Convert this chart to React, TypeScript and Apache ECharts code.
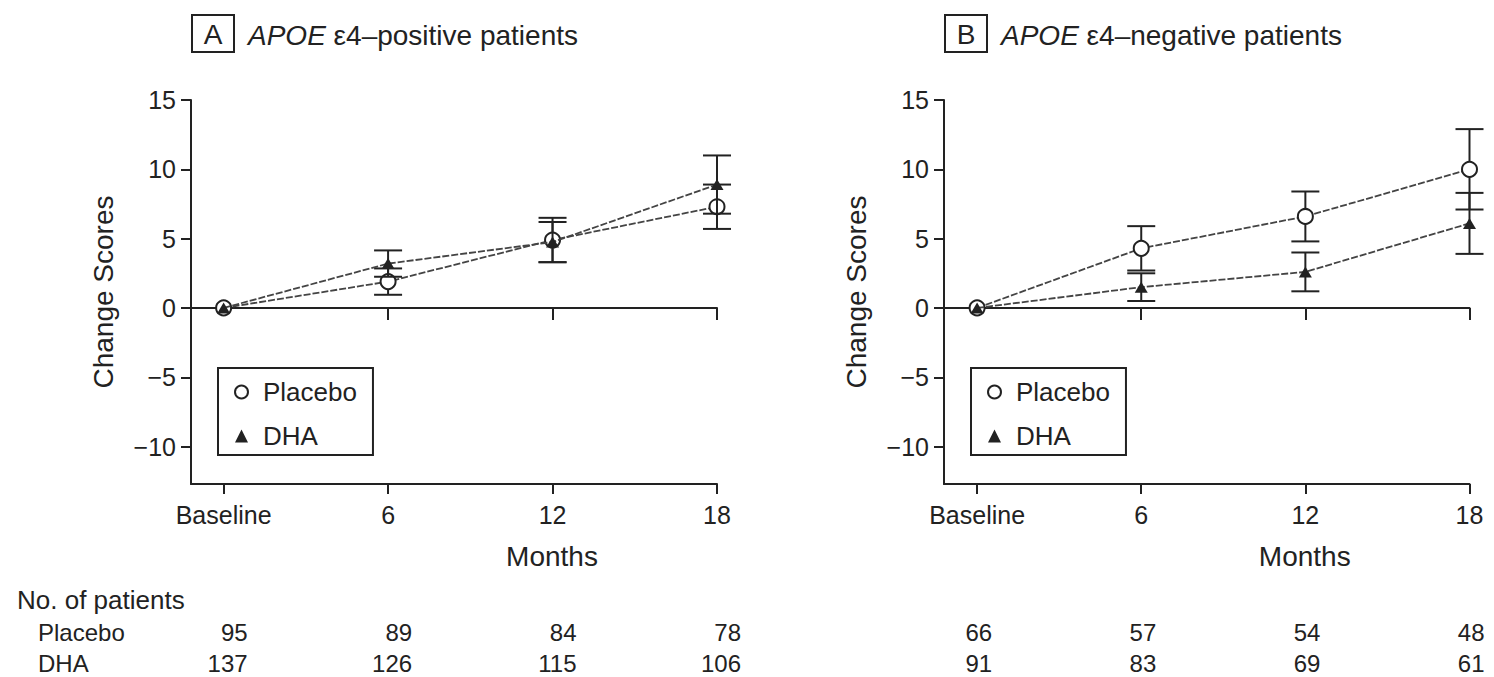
import React, { useEffect, useRef } from 'react';
import * as echarts from 'echarts';

const FONT = '"Liberation Sans", Arial, Helvetica, sans-serif';
const INK = '#222';

// ---- data ----
const months = [0, 6, 12, 18];
const monthLabels = ['Baseline', '6', '12', '18'];
const yTicks = [-10, -5, 0, 5, 10, 15];

// Panel A: APOE e4-positive
const posPlaceboMean = [0, 1.9, 4.9, 7.3];
const posPlaceboSE = [0, 0.95, 1.6, 1.6];
const posDhaMean = [0, 3.2, 4.75, 8.9];
const posDhaSE = [0, 0.95, 1.45, 2.1];
const posPlaceboN = [95, 89, 84, 78];
const posDhaN = [137, 126, 115, 106];

// Panel B: APOE e4-negative
const negPlaceboMean = [0, 4.3, 6.6, 10.0];
const negPlaceboSE = [0, 1.6, 1.8, 2.9];
const negDhaMean = [0, 1.5, 2.6, 6.1];
const negDhaSE = [0, 1.0, 1.4, 2.2];
const negPlaceboN = [66, 57, 54, 48];
const negDhaN = [91, 83, 69, 61];

const panels = [
  {
    letter: 'A', title: ' ε4–positive patients',
    placebo: posPlaceboMean, placeboSE: posPlaceboSE, dha: posDhaMean, dhaSE: posDhaSE,
    nP: posPlaceboN, nD: posDhaN,
    grid: { left: 191, top: 100, width: 526, height: 384 }, xMin: -1.19, numW: 48,
  },
  {
    letter: 'B', title: ' ε4–negative patients',
    placebo: negPlaceboMean, placeboSE: negPlaceboSE, dha: negDhaMean, dhaSE: negDhaSE,
    nP: negPlaceboN, nD: negDhaN,
    grid: { left: 944, top: 100, width: 525.5, height: 384 }, xMin: -1.21, numW: 30,
  },
];

const lineStyleAxis = { color: INK, width: 2 };

const renderErr = (params: any, api: any) => {
  const x = api.value(0);
  const lo = api.coord([x, api.value(1)]);
  const hi = api.coord([x, api.value(2)]);
  const hw = 14;
  const style = { stroke: INK, lineWidth: 2 };
  return {
    type: 'group',
    children: [
      { type: 'line', shape: { x1: lo[0], y1: lo[1], x2: hi[0], y2: hi[1] }, style },
      { type: 'line', shape: { x1: lo[0] - hw, y1: lo[1], x2: lo[0] + hw, y2: lo[1] }, style },
      { type: 'line', shape: { x1: hi[0] - hw, y1: hi[1], x2: hi[0] + hw, y2: hi[1] }, style },
    ],
  };
};

function buildOption() {
  const grid: any[] = [];
  const xAxis: any[] = [];
  const yAxis: any[] = [];
  const series: any[] = [];
  const legend: any[] = [];
  const graphic: any[] = [];

  panels.forEach((p, i) => {
    grid.push({ ...p.grid, outerBoundsMode: 'none', containLabel: false });
    // main bottom axis
    xAxis.push({
      gridIndex: i, type: 'value', min: p.xMin, max: 18, position: 'bottom',
      axisLine: { onZero: false, lineStyle: lineStyleAxis },
      axisTick: { customValues: months, length: 10, lineStyle: lineStyleAxis },
      axisLabel: {
        customValues: months, margin: 18, fontSize: 25, fontFamily: FONT, color: INK,
        formatter: (v: number) => monthLabels[months.indexOf(v)] ?? '',
      },
      splitLine: { show: false },
      name: 'Months', nameLocation: 'middle', nameGap: 58,
      nameTextStyle: { fontSize: 28, fontFamily: FONT, color: INK, padding: [0, 0, 0, 196] },
    });
    // zero line axis
    xAxis.push({
      gridIndex: i, type: 'value', min: p.xMin, max: 18, position: 'bottom',
      axisLine: { onZero: true, lineStyle: lineStyleAxis },
      axisTick: { customValues: [6, 12, 18], length: 12, lineStyle: lineStyleAxis },
      axisLabel: { show: false },
      splitLine: { show: false },
    });
    // patient numbers axis
    xAxis.push({
      gridIndex: i, type: 'value', min: p.xMin, max: 18, position: 'bottom',
      axisLine: { show: false, onZero: false },
      axisTick: { show: false },
      axisLabel: {
        customValues: months, margin: 133,
        formatter: (v: number) => {
          const k = months.indexOf(v);
          return k < 0 ? '' : `{n|${p.nP[k]}}\n{n|${p.nD[k]}}`;
        },
        rich: { n: { fontSize: 24, fontFamily: FONT, color: INK, width: p.numW, align: 'right', lineHeight: 31 } },
      },
      splitLine: { show: false },
    });
    yAxis.push({
      gridIndex: i, type: 'value', min: -12.7, max: 15,
      axisLine: { onZero: false, lineStyle: lineStyleAxis },
      axisTick: { customValues: yTicks, length: 10, lineStyle: lineStyleAxis },
      axisLabel: {
        customValues: yTicks, margin: 15, fontSize: 25, fontFamily: FONT, color: INK,
        formatter: (v: number) => (v < 0 ? '−' + Math.abs(v) : String(v)),
      },
      splitLine: { show: false },
      name: 'Change Scores', nameLocation: 'middle', nameGap: 74,
      nameTextStyle: { fontSize: 28, fontFamily: FONT, color: INK },
    });

    const xi = i * 3;
    const errData = (mean: number[], se: number[]) =>
      months.map((m, k) => [m, mean[k] - se[k], mean[k] + se[k]]).filter((_, k) => se[k] > 0);

    series.push({
      type: 'custom', name: 'Placebo SEM', xAxisIndex: xi, yAxisIndex: i, z: 1,
      renderItem: renderErr, encode: { x: 0, y: [1, 2] },
      data: errData(p.placebo, p.placeboSE), silent: true, itemStyle: { color: INK },
    });
    series.push({
      type: 'line', name: 'Placebo', xAxisIndex: xi, yAxisIndex: i, z: 2,
      data: months.map((m, k) => [m, p.placebo[k]]),
      symbol: 'circle', symbolSize: 15,
      itemStyle: { color: '#fff', borderColor: INK, borderWidth: 2 },
      lineStyle: { color: '#444', width: 1.8, type: [7, 2] },
    });
    series.push({
      type: 'custom', name: 'DHA SEM', xAxisIndex: xi, yAxisIndex: i, z: 3,
      renderItem: renderErr, encode: { x: 0, y: [1, 2] },
      data: errData(p.dha, p.dhaSE), silent: true, itemStyle: { color: INK },
    });
    series.push({
      type: 'line', name: 'DHA', xAxisIndex: xi, yAxisIndex: i, z: 4,
      data: months.map((m, k) => [m, p.dha[k]]),
      symbol: 'triangle', symbolSize: [13, 11],
      itemStyle: { color: INK },
      lineStyle: { color: '#444', width: 1.8, type: [7, 2] },
    });

    legend.push({
      left: p.grid.left + 27, top: 368, orient: 'vertical',
      data: [
        { name: 'Placebo', icon: 'circle', itemStyle: { color: '#fff', borderColor: INK, borderWidth: 2 } },
        { name: 'DHA', icon: 'triangle', itemStyle: { color: INK, borderWidth: 0 } },
      ],
      itemWidth: 13, itemHeight: 13, itemGap: 14,
      borderColor: INK, borderWidth: 2, padding: [9, 16, 4, 16],
      textStyle: { fontSize: 26, fontFamily: FONT, color: INK, lineHeight: 30, padding: [0, 0, 0, 10] },
      selectedMode: false,
    });

    const bx = p.grid.left + 1;
    graphic.push({
      type: 'rect', shape: { x: bx, y: 15, width: 42, height: 37 },
      style: { fill: 'none', stroke: INK, lineWidth: 2 },
    });
    graphic.push({
      type: 'text', x: bx + 21, y: 34,
      style: { text: p.letter, fontSize: 28, fontFamily: FONT, fill: INK, align: 'center', verticalAlign: 'middle' },
    });
    graphic.push({
      type: 'text', x: bx + 56, y: 35,
      style: {
        text: `{i|APOE}${p.title}`, fontSize: 28, fontFamily: FONT, fill: INK, verticalAlign: 'middle',
        rich: { i: { fontStyle: 'italic', fontSize: 28, fontFamily: FONT, fill: INK } },
      },
    });
  });

  graphic.push({ type: 'text', x: 17, y: 600, style: { text: 'No. of patients', fontSize: 26, fontFamily: FONT, fill: INK, verticalAlign: 'middle' } });
  graphic.push({ type: 'text', x: 38, y: 632, style: { text: 'Placebo', fontSize: 24, fontFamily: FONT, fill: INK, verticalAlign: 'middle' } });
  graphic.push({ type: 'text', x: 38, y: 663, style: { text: 'DHA', fontSize: 24, fontFamily: FONT, fill: INK, verticalAlign: 'middle' } });

  return {
    animation: false,
    backgroundColor: '#fff',
    textStyle: { fontFamily: FONT },
    grid, xAxis, yAxis, series, legend, graphic,
  };
}

export default function App() {
  const ref = useRef<HTMLDivElement>(null);
  useEffect(() => {
    if (!ref.current) return;
    const chart = echarts.init(ref.current, undefined, { renderer: 'svg' });
    chart.setOption(buildOption() as any);
    return () => chart.dispose();
  }, []);
  return <div ref={ref} style={{ position: 'fixed', left: 0, top: 0, width: 1494, height: 677, background: '#fff' }} />;
}
